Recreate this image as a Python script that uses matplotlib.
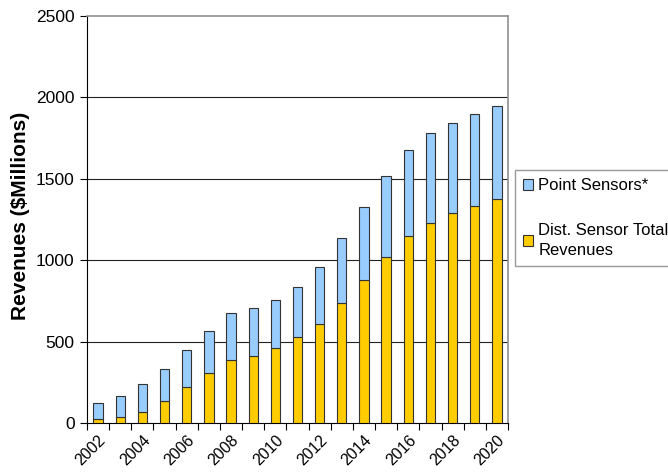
import matplotlib.pyplot as plt
import numpy as np

plt.rcParams['font.family'] = ['Liberation Sans', 'DejaVu Sans']

years = list(range(2002, 2021))
totals = [125, 164, 240, 332, 450, 567, 676, 705, 754, 838, 960, 1138, 1324,
          1516, 1676, 1780, 1842, 1897, 1946]
dist_sensor = [22, 37, 70, 135, 221, 305, 387, 410, 459, 527, 610, 739, 878,
               1020, 1148, 1230, 1287, 1330, 1377]
point_sensor = [t - d for t, d in zip(totals, dist_sensor)]
tick_years = [str(y) if y % 2 == 0 else '' for y in years]

fig = plt.figure(figsize=(6.68, 4.76), dpi=100)
ax = fig.add_axes([87/668, 53/476, 421/668, 407/476])

x = np.arange(len(years))
ax.bar(x, dist_sensor, width=0.42, color='#FFCC00', edgecolor='#333333',
       linewidth=0.8, label='Dist. Sensor Total\nRevenues', zorder=3)
ax.bar(x, point_sensor, width=0.42, bottom=dist_sensor, color='#99CCFF',
       edgecolor='#333333', linewidth=0.8, label='Point Sensors*', zorder=3)

ax.set_xlim(-0.5, len(years) - 0.5)
ax.set_ylim(0, 2500)
ax.set_yticks([0, 500, 1000, 1500, 2000, 2500])
ax.tick_params(axis='y', labelsize=12.5, length=5, width=0.8, pad=4)

# ticks between categories, labels on category centers
ax.set_xticks(np.arange(len(years) + 1) - 0.5)
ax.set_xticklabels([])
ax.set_xticks(x, minor=True)
ax.set_xticklabels(tick_years, minor=True, rotation=45, ha='right',
                   rotation_mode='anchor', fontsize=11.5)
ax.tick_params(axis='x', which='major', length=5, width=0.8)
ax.tick_params(axis='x', which='minor', length=0, pad=7)

for v in [500, 1000, 1500, 2000]:
    ax.axhline(v, color='#222222', linewidth=0.8, zorder=1)

ax.spines['top'].set_color('#909090')
ax.spines['right'].set_color('#909090')
ax.spines['top'].set_linewidth(1.2)
ax.spines['right'].set_linewidth(1.2)

ax.set_ylabel('Revenues ($Millions)', fontsize=15, fontweight='bold')
ax.yaxis.set_label_coords(-0.135, 0.51)

handles, labels = ax.get_legend_handles_labels()
leg = fig.legend(handles[::-1], labels[::-1], loc='upper left',
                 bbox_to_anchor=(515/668, 1 - 170/476), fontsize=12,
                 frameon=True, fancybox=False, edgecolor='#808080',
                 handlelength=0.6, handleheight=0.6, handletextpad=0.3,
                 labelspacing=1.8, borderpad=0.5, borderaxespad=0)
leg.get_frame().set_linewidth(1.0)
for t in leg.get_texts():
    t.set_linespacing(1.35)

fig.savefig('out.png', dpi=100)
